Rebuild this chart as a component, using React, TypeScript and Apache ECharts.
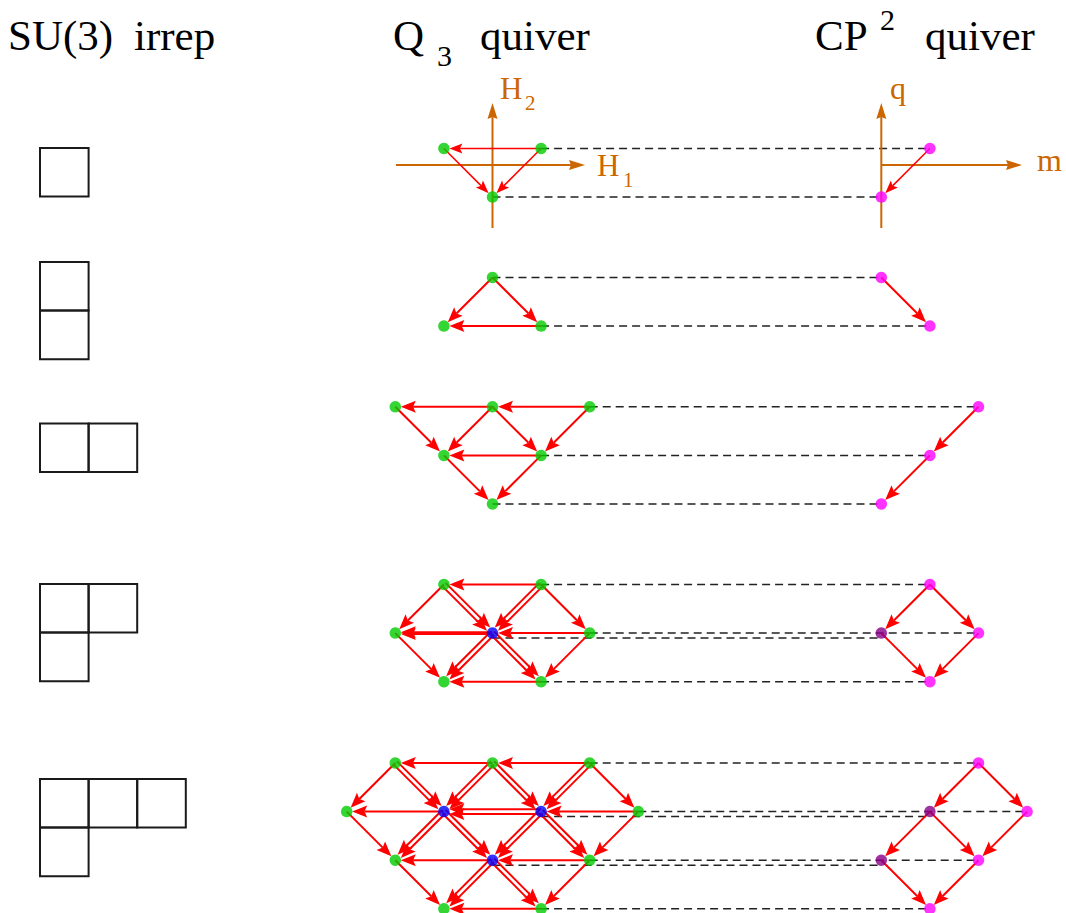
import React, { useEffect, useRef } from "react";
import * as echarts from "echarts";

// ---------------- DATA ----------------
// Young diagram row lengths of each SU(3) irrep (top row first)
const young1 = [1];
const young2 = [1, 1];
const young3 = [2];
const young4 = [2, 1];
const young5 = [3, 1];

// Q3 quiver vertices: [column, level, multiplicity]
const q3Nodes1 = [[-1, 0, 1], [1, 0, 1], [0, 1, 1]];
const q3Nodes2 = [[0, 0, 1], [-1, 1, 1], [1, 1, 1]];
const q3Nodes3 = [[-2, 0, 1], [0, 0, 1], [2, 0, 1], [-1, 1, 1], [1, 1, 1], [0, 2, 1]];
const q3Nodes4 = [[-1, 0, 1], [1, 0, 1], [-2, 1, 1], [0, 1, 2], [2, 1, 1], [-1, 2, 1], [1, 2, 1]];
const q3Nodes5 = [
  [-2, 0, 1], [0, 0, 1], [2, 0, 1],
  [-3, 1, 1], [-1, 1, 2], [1, 1, 2], [3, 1, 1],
  [-2, 2, 1], [0, 2, 2], [2, 2, 1],
  [-1, 3, 1], [1, 3, 1],
];

// Q3 arrows: [fromColumn, fromLevel, toColumn, toLevel, number of arrows, (optional tight)]
const q3Arrows1 = [[1, 0, -1, 0, 1], [-1, 0, 0, 1, 1], [1, 0, 0, 1, 1]];
const q3Arrows2 = [[0, 0, -1, 1, 1], [0, 0, 1, 1, 1], [1, 1, -1, 1, 1]];
const q3Arrows3 = [
  [2, 0, 0, 0, 1], [0, 0, -2, 0, 1],
  [-2, 0, -1, 1, 1], [0, 0, -1, 1, 1], [0, 0, 1, 1, 1], [2, 0, 1, 1, 1],
  [1, 1, -1, 1, 1], [-1, 1, 0, 2, 1], [1, 1, 0, 2, 1],
];
const q3Arrows4 = [
  [1, 0, -1, 0, 1],
  [-1, 0, -2, 1, 1], [-1, 0, 0, 1, 2], [1, 0, 0, 1, 2], [1, 0, 2, 1, 1],
  [2, 1, 0, 1, 1], [0, 1, -2, 1, 2, 1],
  [-2, 1, -1, 2, 1], [0, 1, -1, 2, 2], [0, 1, 1, 2, 2], [2, 1, 1, 2, 1],
  [1, 2, -1, 2, 1],
];
const q3Arrows5 = [
  [2, 0, 0, 0, 1], [0, 0, -2, 0, 1],
  [3, 1, 1, 1, 1], [1, 1, -1, 1, 2], [-1, 1, -3, 1, 1],
  [2, 2, 0, 2, 1], [0, 2, -2, 2, 1],
  [1, 3, -1, 3, 1],
  [-2, 0, -3, 1, 1], [0, 0, -1, 1, 2], [2, 0, 1, 1, 2],
  [-1, 1, -2, 2, 2], [1, 1, 0, 2, 2], [3, 1, 2, 2, 1],
  [0, 2, -1, 3, 2], [2, 2, 1, 3, 1],
  [-2, 0, -1, 1, 2], [0, 0, 1, 1, 2], [2, 0, 3, 1, 1],
  [-3, 1, -2, 2, 1], [-1, 1, 0, 2, 2], [1, 1, 2, 2, 2],
  [-2, 2, -1, 3, 1], [0, 2, 1, 3, 2],
];

// CP2 quiver vertices: [column, level, kind] (kind 1 = doubled vertex)
const cp2Nodes1 = [[1, 0, 0], [0, 1, 0]];
const cp2Nodes2 = [[0, 0, 0], [1, 1, 0]];
const cp2Nodes3 = [[2, 0, 0], [1, 1, 0], [0, 2, 0]];
const cp2Nodes4 = [[1, 0, 0], [0, 1, 1], [2, 1, 0], [1, 2, 0]];
const cp2Nodes5 = [[2, 0, 0], [1, 1, 1], [3, 1, 0], [0, 2, 1], [2, 2, 0], [1, 3, 0]];

// CP2 arrows: [fromColumn, fromLevel, toColumn, toLevel]
const cp2Arrows1 = [[1, 0, 0, 1]];
const cp2Arrows2 = [[0, 0, 1, 1]];
const cp2Arrows3 = [[2, 0, 1, 1], [1, 1, 0, 2]];
const cp2Arrows4 = [[1, 0, 0, 1], [1, 0, 2, 1], [0, 1, 1, 2], [2, 1, 1, 2]];
const cp2Arrows5 = [[2, 0, 1, 1], [2, 0, 3, 1], [1, 1, 0, 2], [1, 1, 2, 2], [3, 1, 2, 2], [0, 2, 1, 3], [2, 2, 1, 3]];

// dashed correspondences: [level, q3Column, cp2Column, secondCopy]
const links1 = [[0, 1, 1, 0], [1, 0, 0, 0]];
const links2 = [[0, 0, 0, 0], [1, 1, 1, 0]];
const links3 = [[0, 2, 2, 0], [1, 1, 1, 0], [2, 0, 0, 0]];
const links4 = [[0, 1, 1, 0], [1, 2, 2, 0], [1, 0, 0, 1], [2, 1, 1, 0]];
const links5 = [[0, 2, 2, 0], [1, 3, 3, 0], [1, 1, 1, 1], [2, 2, 2, 0], [2, 0, 0, 1], [3, 1, 1, 0]];

// ---------------- LAYOUT ----------------
const W = 1066;
const H = 913;
const U = 48.6; // px per lattice unit
const ORIGIN_PX = 492.5;
const XMIN = -ORIGIN_PX / U;
const XMAX = (W - ORIGIN_PX) / U;
const YMAX = H / U;
const CP2_SHIFT = 8;
const ROW_TOP = [148.5, 277.5, 406.8, 584.5, 763].map((v) => v / U);
const YOUNG_TOP = [148, 262, 423.5, 584, 779].map((v) => v / U);
const YOUNG_LEFT = (40 - ORIGIN_PX) / U;
const LINK_SHIFT = 5 / U;
const AX_Y = ROW_TOP[0] + 16.5 / U;
const AX_BOTTOM = 228 / U;
const AX_TOP = 103 / U;
const AXES = [
  [(396 - ORIGIN_PX) / U, AX_Y, (585 - ORIGIN_PX) / U, AX_Y],
  [0, AX_BOTTOM, 0, AX_TOP],
  [CP2_SHIFT, AX_Y, (1022 - ORIGIN_PX) / U, AX_Y],
  [CP2_SHIFT, AX_BOTTOM, CP2_SHIFT, AX_TOP],
];

const rows = [
  { young: young1, q3: q3Nodes1, q3a: q3Arrows1, cp: cp2Nodes1, cpa: cp2Arrows1, links: links1 },
  { young: young2, q3: q3Nodes2, q3a: q3Arrows2, cp: cp2Nodes2, cpa: cp2Arrows2, links: links2 },
  { young: young3, q3: q3Nodes3, q3a: q3Arrows3, cp: cp2Nodes3, cpa: cp2Arrows3, links: links3 },
  { young: young4, q3: q3Nodes4, q3a: q3Arrows4, cp: cp2Nodes4, cpa: cp2Arrows4, links: links4 },
  { young: young5, q3: q3Nodes5, q3a: q3Arrows5, cp: cp2Nodes5, cpa: cp2Arrows5, links: links5 },
];

const RED = "#ff0000";
const ORANGE = "#cc6600";
const SERIF = '"Liberation Serif", "Times New Roman", serif';

function buildData() {
  const green: number[][] = [];
  const blue: number[][] = [];
  const magenta: number[][] = [];
  const purple: number[][] = [];
  const thin: number[][] = [];
  const normal: number[][] = [];
  const dashes: number[][] = [];
  const boxes: number[][] = [];
  rows.forEach((r, i) => {
    const top = ROW_TOP[i];
    r.q3.forEach(([c, l, m]) => (m > 1 ? blue : green).push([c, top + l]));
    r.cp.forEach(([c, l, k]) => (k ? purple : magenta).push([c + CP2_SHIFT, top + l]));
    const target = i === 0 ? thin : normal;
    r.q3a.forEach((a) => target.push([a[0], top + a[1], a[2], top + a[3], a[4], a[5] ? 1.6 : 4.6]));
    r.cpa.forEach((a) => target.push([a[0] + CP2_SHIFT, top + a[1], a[2] + CP2_SHIFT, top + a[3], 1, 0]));
    r.links.forEach(([l, qc, cc, s]) => {
      const y = top + l + (s ? LINK_SHIFT : 0);
      dashes.push([qc, y, cc + CP2_SHIFT, y]);
    });
    r.young.forEach((len, j) => {
      for (let k = 0; k < len; k++) boxes.push([YOUNG_LEFT + k, YOUNG_TOP[i] + j]);
    });
  });
  return { green, blue, magenta, purple, thin, normal, dashes, boxes };
}

function arrowRenderer(opt: { color: string; width: number; len: number; half: number; notch: number; shrink: number }) {
  return (_params: any, api: any) => {
    const p1 = api.coord([api.value(0), api.value(1)]);
    const p2 = api.coord([api.value(2), api.value(3)]);
    const n = api.value(4) || 1;
    const gap = api.value(5) || 0;
    const dx = p2[0] - p1[0];
    const dy = p2[1] - p1[1];
    const d = Math.hypot(dx, dy) || 1;
    const ux = dx / d;
    const uy = dy / d;
    const px = -uy;
    const py = ux;
    const children: any[] = [];
    for (let k = 0; k < n; k++) {
      const o = (k - (n - 1) / 2) * gap;
      const sx = p1[0] + px * o;
      const sy = p1[1] + py * o;
      const tx = p2[0] - ux * opt.shrink + px * o;
      const ty = p2[1] - uy * opt.shrink + py * o;
      const bx = tx - ux * opt.len;
      const by = ty - uy * opt.len;
      const nx = tx - ux * opt.len * opt.notch;
      const ny = ty - uy * opt.len * opt.notch;
      children.push({
        type: "line",
        shape: { x1: sx, y1: sy, x2: nx, y2: ny },
        style: { stroke: opt.color, lineWidth: opt.width },
      });
      children.push({
        type: "polygon",
        shape: {
          points: [
            [tx, ty],
            [bx + px * opt.half, by + py * opt.half],
            [nx, ny],
            [bx - px * opt.half, by - py * opt.half],
          ],
        },
        style: { fill: opt.color },
      });
    }
    return { type: "group", children };
  };
}

function txt(text: string, x: number, baseline: number, size: number, fill = "#000") {
  return {
    type: "text",
    x,
    y: baseline - 0.34 * size,
    silent: true,
    style: { text, fill, fontSize: size, fontFamily: SERIF, align: "left", verticalAlign: "middle" },
  };
}

export default function App() {
  const ref = useRef<HTMLDivElement>(null);
  useEffect(() => {
    if (!ref.current) return;
    const chart = echarts.init(ref.current, undefined, { renderer: "svg" });
    const d = buildData();
    const node = (data: number[][], color: string) => ({
      type: "scatter",
      data,
      symbol: "circle",
      symbolSize: 11.5,
      itemStyle: { color },
      silent: true,
      z: 10,
    });
    const custom = (data: number[][], renderItem: any, z: number) => ({
      type: "custom",
      data,
      renderItem,
      clip: false,
      silent: true,
      z,
      encode: { x: [0, 2], y: [1, 3] },
    });
    chart.setOption({
      animation: false,
      backgroundColor: "#ffffff",
      grid: { left: 0, right: 0, top: 0, bottom: 0 },
      xAxis: { type: "value", min: XMIN, max: XMAX, show: false },
      yAxis: { type: "value", min: 0, max: YMAX, inverse: true, show: false },
      series: [
        {
          type: "custom",
          data: d.boxes,
          clip: false,
          silent: true,
          z: 1,
          encode: { x: 0, y: 1 },
          renderItem: (_p: any, api: any) => {
            const p = api.coord([api.value(0), api.value(1)]);
            const s = api.size([1, 1]);
            return {
              type: "rect",
              shape: { x: p[0], y: p[1], width: s[0], height: s[1] },
              style: { fill: "none", stroke: "#1a1a1a", lineWidth: 2 },
            };
          },
        },
        custom(
          d.dashes,
          (_p: any, api: any) => {
            const a = api.coord([api.value(0), api.value(1)]);
            const b = api.coord([api.value(2), api.value(3)]);
            return {
              type: "line",
              shape: { x1: a[0], y1: a[1], x2: b[0], y2: b[1] },
              style: { stroke: "#222222", lineWidth: 1.5, lineDash: [8, 5] },
            };
          },
          2
        ),
        custom(AXES, arrowRenderer({ color: ORANGE, width: 2, len: 16, half: 5, notch: 0.88, shrink: 0 }), 3),
        custom(d.thin, arrowRenderer({ color: RED, width: 1.5, len: 13, half: 5, notch: 0.8, shrink: 5.5 }), 4),
        custom(d.normal, arrowRenderer({ color: RED, width: 2, len: 15, half: 6, notch: 0.82, shrink: 5.5 }), 4),
        node(d.green, "#00cc00"),
        node(d.blue, "#0000ff"),
        node(d.magenta, "#ff00ff"),
        node(d.purple, "#880088"),
      ],
      graphic: [
        txt("SU(3)", 8, 50, 43),
        txt("irrep", 134, 50, 43),
        txt("Q", 393, 50, 43),
        txt("3", 437, 66, 30),
        txt("quiver", 480, 50, 43),
        txt("CP", 815, 50, 43),
        txt("2", 880, 30, 30),
        txt("quiver", 925, 50, 43),
        txt("H", 500, 99, 31, ORANGE),
        txt("2", 525, 110, 21, ORANGE),
        txt("H", 597, 176, 31, ORANGE),
        txt("1", 623, 187, 21, ORANGE),
        txt("q", 890, 99, 32, ORANGE),
        txt("m", 1037, 171, 32, ORANGE),
      ],
    });
    return () => chart.dispose();
  }, []);
  return (
    <div
      ref={ref}
      style={{ position: "absolute", left: 0, top: 0, width: W, height: H, background: "#fff" }}
    />
  );
}
